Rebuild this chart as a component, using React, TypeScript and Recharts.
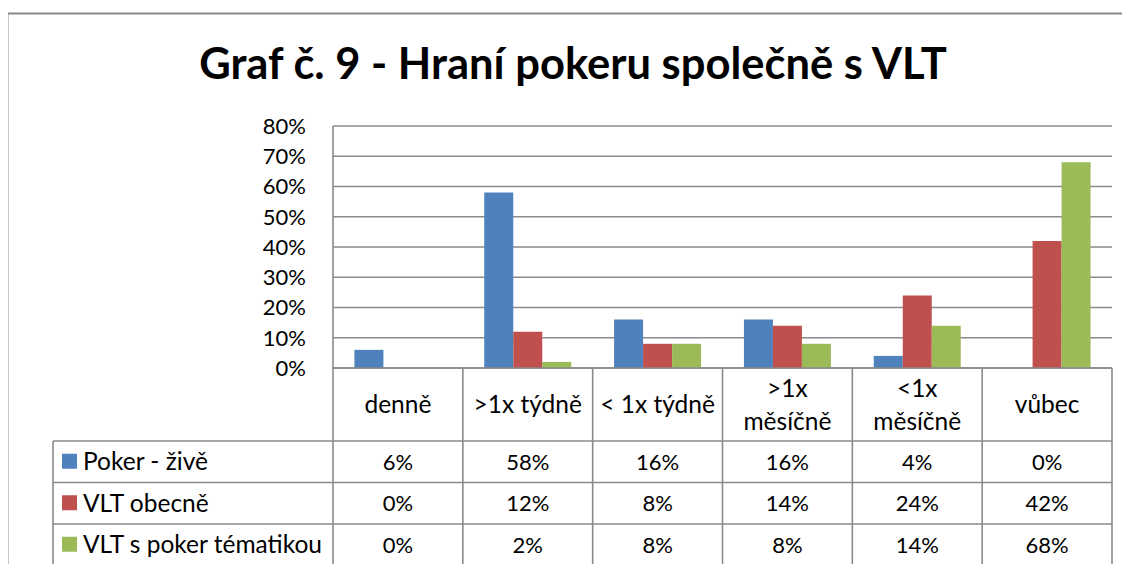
import React from 'react';
import { BarChart, Bar, XAxis, YAxis, CartesianGrid } from 'recharts';

// categories (a line break marks where Excel wrapped the label)
const categories = ['denně', '>1x týdně', '< 1x týdně', '>1x\nměsíčně', '<1x\nměsíčně', 'vůbec'];
const pokerZive = [6, 58, 16, 16, 4, 0];
const vltObecne = [0, 12, 8, 14, 24, 42];
const vltPoker = [0, 2, 8, 8, 14, 68];
const seriesNames = ['Poker - živě', 'VLT obecně', 'VLT s poker tématikou'];
const seriesColors = ['#4F81BD', '#C0504D', '#9BBB59'];
const yTicks = [0, 10, 20, 30, 40, 50, 60, 70, 80];

const seriesValues = [pokerZive, vltObecne, vltPoker];

const chartData = categories.map((name, i) => ({
  name,
  poker: pokerZive[i],
  vlt: vltObecne[i],
  vltPoker: vltPoker[i],
}));

const FONT = 'Lato, "Open Sans", sans-serif';
const LINE = '#8a8a8a';
const PLOT_LEFT = 333;
const PLOT_RIGHT = 1112;
const COL_W = (PLOT_RIGHT - PLOT_LEFT) / categories.length;
const HEADER_H = 73;
const ROW_H = 41.5;
const LEGEND_LEFT = 53;
const LABEL_SIZE = 24.5;
const NUM_SIZE = 22;

function TableTick(props: any) {
  const { x, y, payload } = props;
  const i: number = payload.index;
  const left = x - COL_W / 2;
  const right = x + COL_W / 2;
  const bottom = y + HEADER_H + ROW_H * 3;
  const lines = String(payload.value).split('\n');
  const headerMid = y + HEADER_H / 2;

  return (
    <g>
      {i === 0 && <line x1={left} x2={left} y1={y} y2={bottom} stroke={LINE} strokeWidth={1.6} />}
      <line x1={right} x2={right} y1={y} y2={bottom} stroke={LINE} strokeWidth={1.6} />
      {[0, 1, 2, 3].map((r) => {
        const ly = y + HEADER_H + ROW_H * r;
        return (
          <line
            key={r}
            x1={i === 0 ? LEGEND_LEFT : left}
            x2={right}
            y1={ly}
            y2={ly}
            stroke={LINE}
            strokeWidth={1.6}
          />
        );
      })}
      <text textAnchor="middle" fontFamily={FONT} fontSize={LABEL_SIZE} fill="#000">
        {lines.map((ln, k) => (
          <tspan
            key={k}
            x={x}
            y={headerMid + (k - (lines.length - 1) / 2) * 33}
            dy="0.355em"
          >
            {ln}
          </tspan>
        ))}
      </text>
      {seriesValues.map((vals, r) => (
        <text
          key={r}
          x={x}
          y={y + HEADER_H + ROW_H * r + ROW_H / 2}
          dy="0.355em"
          textAnchor="middle"
          fontFamily={FONT}
          fontSize={NUM_SIZE}
          fill="#000"
        >
          {vals[i]}%
        </text>
      ))}
      {i === 0 && (
        <g>
          <line
            x1={LEGEND_LEFT}
            x2={LEGEND_LEFT}
            y1={y + HEADER_H}
            y2={bottom}
            stroke={LINE}
            strokeWidth={1.6}
          />
          {seriesNames.map((s, r) => {
            const cy = y + HEADER_H + ROW_H * r + ROW_H / 2;
            return (
              <g key={s}>
                <rect x={LEGEND_LEFT + 9} y={cy - 8} width={15} height={15} fill={seriesColors[r]} />
                <text
                  x={LEGEND_LEFT + 30}
                  y={cy}
                  dy="0.355em"
                  fontFamily={FONT}
                  fontSize={LABEL_SIZE}
                  fill="#000"
                >
                  {s}
                </text>
              </g>
            );
          })}
        </g>
      )}
    </g>
  );
}

export default function App() {
  return (
    <div style={{ margin: -8, width: 1130, height: 572, overflow: 'hidden', position: 'relative', background: '#fff' }}>
      <svg width={1130} height={572} style={{ position: 'absolute', left: 0, top: 0 }}>
        <path d="M7.5 572 V13.5 H1130" fill="none" stroke={LINE} strokeWidth={2} />
        <text
          x={573}
          y={79}
          textAnchor="middle"
          fontFamily={FONT}
          fontWeight="bold"
          fontSize={43.5}
          fill="#000"
        >
          Graf č. 9 - Hraní pokeru společně s VLT
        </text>
      </svg>
      <div style={{ position: 'absolute', left: 0, top: 0 }}>
        <BarChart
          width={1130}
          height={572}
          data={chartData}
          margin={{ top: 126, right: 1130 - PLOT_RIGHT, left: 0, bottom: 0 }}
          barCategoryGap="16.5%"
          barGap={0}
        >
          <CartesianGrid horizontal vertical={false} stroke={LINE} strokeWidth={1.6} />
          <XAxis
            dataKey="name"
            height={204}
            interval={0}
            tickSize={0}
            tickMargin={0}
            axisLine={{ stroke: LINE, strokeWidth: 1.6 }}
            tickLine={false}
            tick={<TableTick />}
          />
          <YAxis
            width={PLOT_LEFT}
            domain={[0, 80]}
            ticks={yTicks}
            interval={0}
            tickFormatter={(v: number) => `${v}%`}
            tickSize={0}
            tickMargin={27}
            axisLine={{ stroke: LINE, strokeWidth: 1.6 }}
            tickLine={false}
            tick={{ fill: '#000', fontSize: NUM_SIZE, fontFamily: FONT }}
          />
          <Bar dataKey="poker" name={seriesNames[0]} fill={seriesColors[0]} isAnimationActive={false} />
          <Bar dataKey="vlt" name={seriesNames[1]} fill={seriesColors[1]} isAnimationActive={false} />
          <Bar dataKey="vltPoker" name={seriesNames[2]} fill={seriesColors[2]} isAnimationActive={false} />
        </BarChart>
      </div>
    </div>
  );
}
